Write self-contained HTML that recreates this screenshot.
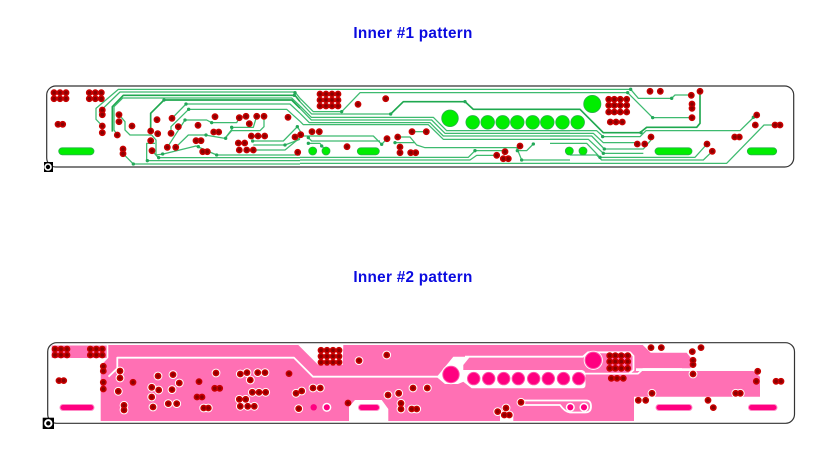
<!DOCTYPE html>
<html><head><meta charset="utf-8"><style>
html,body{margin:0;padding:0;background:#fff}
svg{display:block}
text{font-family:"Liberation Sans",Arial,sans-serif;font-weight:bold;font-size:15.3px;letter-spacing:.28px;fill:#0a0ae0;text-anchor:middle}
.t{fill:none;stroke:#3dba6f;stroke-width:3.8;stroke-linejoin:round}
.k{fill:none;stroke:#1fa84f;stroke-width:5;stroke-linejoin:round}
</style></head><body>
<svg width="833" height="461" viewBox="0 0 833 461" xmlns="http://www.w3.org/2000/svg">
<defs>
<path id="a" d="M58 124.3h.01M62.7 124.3h.01M102.3 110h.01M102.3 114.7h.01M102.3 126h.01M102.3 132.7h.01M132 126h.01M198 125.3h.01M196 140.7h.01M201 140.7h.01M213.7 132h.01M218.7 132h.01M288 117.3h.01M347 146.7h.01M637.3 144h.01M644.7 144h.01M650 91.3h.01M660.3 91.3h.01M700 91.3h.01M707 144h.01M712.3 151.3h.01M755.3 125h.01M775 125h.01M780 125h.01M756.7 115h.01M692 104h.01M692 108.3h.01"/>
<path id="b" d="M119 114.7h.01M119 121.7h.01M117.3 135h.01M123 149h.01M123 153.7h.01M157 119.7h.01M150.7 131h.01M157.7 133.7h.01M150.7 140.7h.01M152 150.7h.01M172 118.3h.01M178.3 126.7h.01M171 133.3h.01M167.3 147.3h.01M175.7 147.3h.01M202.7 151.7h.01M207.3 151.7h.01M215 116.7h.01M239.3 117.7h.01M246 116.3h.01M249.3 123.7h.01M256.7 116.3h.01M264 116.3h.01M251.3 136h.01M258 136h.01M264.7 136h.01M238.3 143h.01M244.7 143h.01M239.3 150h.01M246.7 150h.01M253.3 150h.01M295 137h.01M300.7 134.7h.01M297.7 152.3h.01M312 131.7h.01M319.3 131.7h.01M358 104.3h.01M385.7 98.7h.01M387 138.7h.01M397.7 137h.01M412 131.7h.01M426.3 131.7h.01M400 147h.01M400 152.7h.01M410.7 152.7h.01M415.7 152.7h.01M496.7 155.3h.01M505 151.7h.01M503.3 158.7h.01M508.3 158.7h.01M520 146h.01M651 137h.01M691.3 95.3h.01M692 117.7h.01M734.7 137h.01M739.3 137h.01"/>
<path id="c" d="M54 92.7h.01M60 92.7h.01M66 92.7h.01M54 98.7h.01M60 98.7h.01M66 98.7h.01M89.3 92.7h.01M95.3 92.7h.01M101.3 92.7h.01M89.3 98.7h.01M95.3 98.7h.01M101.3 98.7h.01M320 94h.01M326 94h.01M332 94h.01M338 94h.01M320 100h.01M326 100h.01M332 100h.01M338 100h.01M320 106h.01M326 106h.01M332 106h.01M338 106h.01M608.7 99.3h.01M614.3 99.3h.01M620.3 99.3h.01M626.7 99.3h.01M608.7 105.3h.01M614.3 105.3h.01M620.3 105.3h.01M626.7 105.3h.01M608.7 112h.01M614.3 112h.01M620.3 112h.01M626.7 112h.01M610.3 122h.01M616 122h.01M622.3 122h.01"/>
<g id="vias" fill="none" stroke-linecap="round">
<use href="#a" stroke="#c80000" stroke-width="6.8"/>
<use href="#b" stroke="#c80000" stroke-width="6.8"/>
<use href="#c" stroke="#c80000" stroke-width="6.8"/>
<use href="#a" stroke="#8a0000" stroke-width="3.6"/>
<use href="#b" stroke="#8a0000" stroke-width="3.6"/>
<use href="#c" stroke="#8a0000" stroke-width="3.6"/>
</g>
</defs>

<text x="413" y="38">Inner #1 pattern</text>
<text x="413" y="282">Inner #2 pattern</text>

<!-- TOP BOARD -->
<rect x="46.7" y="86" width="747" height="81" rx="9" fill="#fff" stroke="#333" stroke-width="1.2"/>
<g transform="translate(40 80) scale(.33333)">
<path class="t" d="M187 138L168 118V85L235 28H780"/>
<path class="t" d="M187 104L178 96 240 36H765L780 55"/>
<path class="k" d="M217 155V80L250 46H765L780 65"/>
<path class="t" d="M232 165L222 150V80L248 54H755L780 78"/>
<path class="k" d="M332 153V100L372 60H755L780 85"/>
<path class="t" d="M237 104L255 125V150L270 165H335L348 180V225L370 222 468 198 530 225H780"/>
<path class="t" d="M396 115L438 72H750L780 100"/>
<path class="t" d="M393 160V140L446 88H740L780 124"/>
<path class="t" d="M382 202L435 120H500L515 128H590L598 113"/>
<path class="t" d="M407 202L445 165H495L555 175 580 142H640L650 109"/>
<path class="t" d="M672 109V140L660 152H575L555 175"/>
<path class="t" d="M336 212L355 233H780"/>
<path class="t" d="M345 190H320V242H780"/>
<path class="t" d="M249 221L280 252H780"/>
<path class="t" d="M634 183H730L772 140 790 168"/>
<path class="t" d="M640 210H735L790 165"/>
<path class="t" d="M640 195H735L780 178"/>
<g fill="#22a858"><circle cx="372" cy="60" r="5"/><circle cx="438" cy="72" r="5"/><circle cx="446" cy="88" r="5"/><circle cx="435" cy="120" r="5"/><circle cx="515" cy="128" r="5"/><circle cx="575" cy="142" r="5"/><circle cx="498" cy="165" r="5"/><circle cx="557" cy="175" r="5"/><circle cx="475" cy="200" r="5"/><circle cx="530" cy="225" r="5"/><circle cx="368" cy="222" r="5"/><circle cx="356" cy="233" r="5"/><circle cx="322" cy="242" r="5"/><circle cx="280" cy="252" r="5"/><circle cx="765" cy="38" r="5"/><circle cx="763" cy="46" r="5"/><circle cx="772" cy="140" r="5"/><circle cx="735" cy="195" r="5"/><circle cx="638" cy="183" r="5"/></g>
</g>
<g transform="translate(300 80) scale(.33333)">
<path class="t" d="M0 28H810"/>
<path class="t" d="M0 55L40 95H125L180 38H810"/>
<path class="t" d="M0 65L35 102H272"/>
<path class="k" d="M272 102L310 65H495L520 88H810"/>
<path class="t" d="M0 78L34 112H400L440 152H810"/>
<path class="t" d="M0 85L34 120H395L435 160H810"/>
<path class="t" d="M0 100L28 128H390L430 168H810"/>
<path class="t" d="M0 124L10 134H385L430 178H810"/>
<path class="t" d="M10 168H220L245 193 261 176"/>
<path class="t" d="M25 173L35 183H240"/>
<path class="t" d="M293 171H330L350 195 375 203H650L665 240H810"/>
<path class="t" d="M285 188H345"/>
<path class="t" d="M0 232H505L525 212H610"/>
<path class="t" d="M0 240H510L530 226H590"/>
<path class="t" d="M0 250H810"/>
<path class="t" d="M660 198L650 212H680L700 192"/>
<path class="t" d="M25 190H60L78 213"/>
<path class="t" d="M336 155H379"/>
<g fill="#22a858"><circle cx="125" cy="95" r="5"/><circle cx="272" cy="102" r="5"/><circle cx="495" cy="65" r="5"/><circle cx="245" cy="193" r="5"/><circle cx="285" cy="188" r="5"/><circle cx="525" cy="212" r="5"/><circle cx="652" cy="212" r="5"/><circle cx="665" cy="240" r="5"/><circle cx="700" cy="192" r="5"/><circle cx="25" cy="173" r="5"/><circle cx="25" cy="190" r="5"/><circle cx="65" cy="198" r="5"/></g>
</g>
<g transform="translate(560 80) scale(.33333)">
<path class="t" d="M-30 28H212L235 55H335L345 45H394"/>
<path class="t" d="M-30 38H203L278 113H396"/>
<path class="k" d="M-30 88H60L130 158H240L260 142H410L420 130V34"/>
<path class="t" d="M-30 152H110L130 170H240L258 152H540L585 108"/>
<path class="t" d="M-30 160H100L130 188H225"/>
<path class="t" d="M-30 168H95L133 207H250L273 180"/>
<path class="t" d="M-30 178H85L130 220H250"/>
<path class="t" d="M-30 190H80L120 232H405L441 192"/>
<path class="t" d="M30 225H110L125 240H430L457 214"/>
<path class="t" d="M-30 250H500L612 135H645"/>
<g fill="#22a858"><circle cx="212" cy="28" r="5"/><circle cx="203" cy="38" r="5"/><circle cx="278" cy="113" r="5"/><circle cx="335" cy="55" r="5"/><circle cx="128" cy="170" r="5"/><circle cx="243" cy="158" r="5"/><circle cx="133" cy="207" r="5"/><circle cx="130" cy="220" r="5"/><circle cx="120" cy="232" r="5"/><circle cx="580" cy="112" r="5"/></g>
</g>
<g fill="#00ee00" stroke="#28b048" stroke-width=".8">
<circle cx="450" cy="118.3" r="8.3"/><circle cx="592.3" cy="104" r="8.6"/>
<circle cx="472.7" cy="122.3" r="6.8"/><circle cx="487.7" cy="122.3" r="6.8"/><circle cx="502.7" cy="122.3" r="6.8"/><circle cx="517.3" cy="122.3" r="6.8"/><circle cx="532.7" cy="122.3" r="6.8"/><circle cx="547.3" cy="122.3" r="6.8"/><circle cx="562.5" cy="122.3" r="6.8"/><circle cx="577.7" cy="122.3" r="6.8"/>
<circle cx="312.7" cy="151" r="4"/><circle cx="326" cy="151" r="4"/><circle cx="569.3" cy="151" r="4"/><circle cx="583" cy="151" r="4"/>
<rect x="58.7" y="147.8" width="35.3" height="7" rx="3.5"/><rect x="357.3" y="147.8" width="22" height="7" rx="3.5"/><rect x="655" y="147.8" width="37" height="7" rx="3.5"/><rect x="747.3" y="147.8" width="29.4" height="7" rx="3.5"/>
</g>
<use href="#vias"/>
<rect x="44" y="162" width="9" height="10" fill="#000"/>
<circle cx="48" cy="167" r="3" fill="#000" stroke="#fff" stroke-width="1.6"/>

<!-- BOTTOM BOARD -->
<rect x="47.7" y="342.7" width="746.8" height="80.6" rx="9" fill="#fff" stroke="#333" stroke-width="1.2"/>
<g fill="#ff70b4">
<rect x="51.7" y="345.5" width="55" height="12.5"/>
<path d="M108.3 345H298.3L318.3 365H342.7L343.3 345H642.7L650.7 352.7H686.7L690.7 357.7V368.3H636V371H753.3L760 376.7V396.7H634V421H513.3V415H500V421H388.3V409L381.7 400H355L349 406.7V421H100.7V365.7L108.3 357.7Z"/>
</g>
<path fill="#fff" d="M436.7 377L453.3 356.7H470L463.3 365V370H582Q585.5 371 585.5 374V385Q585.5 388.3 582 388.3H471.7L463.3 381.7L458 384H445Z"/>
<g fill="none" stroke="#fff" stroke-width="1.8" stroke-linejoin="round">
<path d="M108.5 376.7L117.3 368.3V357.7H294L313 376.7H440"/>
<path d="M465 356.7H583L588 352.3H630L633.5 356V370L629 373.6H585M629 373.6H638L643 369H682"/>
<path d="M520 400.5H587Q591 401 591 406.5 591 412.5 585 412.5H570Q565 412 560 405H520"/>
</g>
<circle cx="451" cy="374.5" r="9.8" fill="#fff"/>
<circle cx="593.3" cy="360.3" r="9.6" fill="#fff"/>
<g fill="#ff0080" stroke="#ff50a8" stroke-width="1">
<circle cx="451" cy="374.5" r="8.2"/><circle cx="593.3" cy="360.3" r="8.2"/>
<circle cx="473.7" cy="378.6" r="6.2"/><circle cx="488.7" cy="378.6" r="6.2"/><circle cx="503.7" cy="378.6" r="6.2"/><circle cx="518.3" cy="378.6" r="6.2"/><circle cx="533.7" cy="378.6" r="6.2"/><circle cx="548.3" cy="378.6" r="6.2"/><circle cx="563.5" cy="378.6" r="6.2"/><circle cx="578.7" cy="378.6" r="6.2"/>
</g>
<g fill="#ff0080" stroke="#fff" stroke-width="1.5">
<circle cx="326.8" cy="407.3" r="3.8"/><circle cx="570.3" cy="407.3" r="3.8"/><circle cx="584" cy="407.3" r="3.8"/>
</g>
<circle cx="313.7" cy="407.3" r="3.2" fill="#ff0080"/>
<g fill="#ff0080" stroke="#ff8cc6" stroke-width="1">
<rect x="60" y="404.5" width="34" height="6" rx="3"/><rect x="358.5" y="404.5" width="21" height="6" rx="3"/><rect x="656" y="404.5" width="36" height="6" rx="3"/><rect x="748.5" y="404.5" width="28.5" height="6" rx="3"/>
</g>
<g transform="translate(1 256.3)">
<use href="#b" fill="none" stroke="#fff" stroke-width="8.8" stroke-linecap="round"/>
<use href="#vias"/>
</g>
<rect x="42.7" y="417.7" width="11.3" height="11.3" fill="#000"/>
<circle cx="48.3" cy="423.3" r="3.2" fill="#000" stroke="#fff" stroke-width="2"/>
</svg>
</body></html>
